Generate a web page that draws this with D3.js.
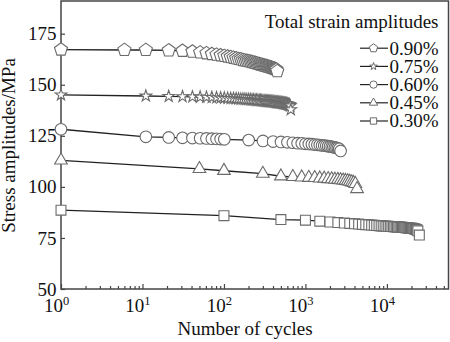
<!DOCTYPE html>
<html>
<head>
<meta charset="utf-8">
<script src="https://cdn.jsdelivr.net/npm/d3@7"></script>
<style>
  body { margin: 0; background: #fff; }
  svg { display: block; }
  text { font-family: "Liberation Serif", "Times New Roman", serif; fill: #111; }
</style>
</head>
<body>
<svg id="chart" width="450" height="342"></svg>
<script>
// ---- data ----
const legendTitle = "Total strain amplitudes";
const seriesLabels = ["0.90%", "0.75%", "0.60%", "0.45%", "0.30%"];
const xTickValues = [1, 10, 100, 1000, 10000];
const xTickExponents = ["0", "1", "2", "3", "4"];
const yTickValues = [50, 75, 100, 125, 150, 175];
const xTitle = "Number of cycles";
const yTitle = "Stress amplitudes/MPa";

const cycles090 = [1, 6, 11, 21, 31, 41, 51, 61, 71, 81, 91, 101, 111, 121, 131, 141, 151, 161, 171, 181, 191,
  201, 211, 221, 231, 241, 251, 261, 271, 281, 291, 301, 311, 321, 331, 341, 351, 361, 371, 381, 391,
  401, 411, 421, 431, 441, 451];
const stress090 = [167.2, 167.0, 167.0, 166.8, 166.6, 166.2, 165.8, 165.4, 165.0, 164.7, 164.4, 164.1, 163.8, 163.5, 163.2, 162.9, 162.6, 162.4, 162.1, 161.9, 161.7,
  161.5, 161.3, 161.1, 160.9, 160.7, 160.5, 160.3, 160.1, 159.9, 159.8, 159.6, 159.4, 159.3, 159.1, 159.0, 158.8, 158.7, 158.5, 158.4, 158.2,
  158.1, 157.9, 157.8, 157.6, 157.4, 156.6];

const cycles075 = [1, 11, 21, 31, 41, 51, 61, 71, 81, 91, 101, 111, 121, 131, 141, 151, 161, 171, 181, 191,
  201, 211, 221, 231, 241, 251, 261, 271, 281, 291, 301, 311, 321, 331, 341, 351, 361, 371, 381, 391,
  401, 411, 421, 431, 441, 451, 461, 471, 481, 491, 501, 511, 521, 531, 541, 551, 561, 571, 581, 591,
  601, 611, 621, 631, 641, 651, 661];
const stress075 = [145.0, 144.5, 144.3, 144.2, 144.1, 144.0, 143.9, 143.8, 143.7, 143.6, 143.5, 143.4, 143.3, 143.3, 143.2, 143.1, 143.0, 143.0, 142.9, 142.8,
  142.8, 142.7, 142.6, 142.6, 142.5, 142.4, 142.4, 142.3, 142.3, 142.2, 142.1, 142.1, 142.0, 142.0, 141.9, 141.9, 141.8, 141.8, 141.7, 141.7,
  141.6, 141.6, 141.5, 141.5, 141.4, 141.4, 141.3, 141.3, 141.2, 141.2, 141.1, 141.1, 141.0, 141.0, 140.9, 140.9, 140.8, 140.7, 140.7, 140.6,
  140.5, 140.4, 140.3, 140.2, 140.0, 139.7, 137.8];

const cycles060 = [1, 11, 21, 31, 41, 51, 61, 71, 81, 91, 101, 201, 301, 401, 501, 601, 701, 801, 901,
  1001, 1101, 1201, 1301, 1401, 1501, 1601, 1701, 1801, 1901, 2001, 2101, 2201, 2301, 2401, 2501, 2601, 2701];
const stress060 = [128.2, 124.5, 124.2, 124.0, 123.9, 123.8, 123.7, 123.6, 123.5, 123.4, 123.3, 122.9, 122.5, 122.2, 122.0, 121.8, 121.6, 121.4, 121.3,
  121.1, 121.0, 120.9, 120.7, 120.6, 120.5, 120.3, 120.2, 120.1, 119.9, 119.8, 119.6, 119.5, 119.3, 119.1, 118.9, 118.6, 117.6];

const cycles045 = [1, 50, 100, 300, 500, 700, 900, 1100, 1300, 1500, 1700, 1900, 2100, 2300, 2500, 2700, 2900,
  3100, 3300, 3500, 3700, 3900, 4100, 4300];
const stress045 = [113.0, 108.8, 107.9, 106.5, 105.2, 104.9, 104.7, 104.5, 104.4, 104.2, 104.1, 103.9, 103.8, 103.6, 103.5, 103.3, 103.2,
  103.0, 102.8, 102.6, 102.3, 102.0, 101.5, 99.0];

const cycles030 = [1, 100, 500, 1000, 1500, 2000, 2500, 3000, 3500, 4000, 4500, 5000, 5500, 6000, 6500, 7000, 7500, 8000, 8500, 9000, 9500,
  10000, 10500, 11000, 11500, 12000, 12500, 13000, 13500, 14000, 14500, 15000, 15500, 16000, 16500, 17000, 17500, 18000, 18500, 19000, 19500,
  20000, 20500, 21000, 21500, 22000, 22500, 23000, 23500, 24000, 25000];
const stress030 = [88.6, 85.9, 84.0, 83.7, 83.2, 82.8, 82.5, 82.3, 82.1, 81.9, 81.8, 81.6, 81.5, 81.4, 81.3, 81.2, 81.1, 81.0, 80.9, 80.9, 80.8,
  80.7, 80.7, 80.6, 80.6, 80.5, 80.5, 80.4, 80.4, 80.3, 80.3, 80.2, 80.2, 80.1, 80.1, 80.0, 80.0, 79.9, 79.9, 79.8, 79.8,
  79.7, 79.7, 79.6, 79.5, 79.4, 79.3, 79.1, 78.9, 78.5, 76.4];

// ---- marker shapes ----
const symbolPentagon = {
  draw(ctx, size) {
    const r = Math.sqrt(size / (2.5 * Math.sin(2 * Math.PI / 5)));
    for (let i = 0; i < 5; i++) {
      const a = -Math.PI / 2 + i * 2 * Math.PI / 5;
      const px = r * Math.cos(a), py = r * Math.sin(a);
      if (i === 0) ctx.moveTo(px, py); else ctx.lineTo(px, py);
    }
    ctx.closePath();
  }
};

const series = [
  { label: seriesLabels[0], n: cycles090, s: stress090, type: symbolPentagon, size: 112, legendSize: 46 },
  { label: seriesLabels[1], n: cycles075, s: stress075, type: d3.symbolStar, size: 42, legendSize: 18 },
  { label: seriesLabels[2], n: cycles060, s: stress060, type: d3.symbolCircle, size: 106, legendSize: 42 },
  { label: seriesLabels[3], n: cycles045, s: stress045, type: d3.symbolTriangle, size: 70, legendSize: 30 },
  { label: seriesLabels[4], n: cycles030, s: stress030, type: d3.symbolSquare, size: 98, legendSize: 40 }
];

// ---- layout ----
const svg = d3.select("#chart");
const x = d3.scaleLog().domain([1, 57000]).range([61, 448.5]);
const y = d3.scaleLinear().domain([50, 191]).range([289, 1]);

const frameColor = "#444";
const lineColor = "#222";
const markerColor = "#6a6a6a";

// x axis: major and minor ticks pointing inward
const minorTicks = [];
for (let e = 0; e <= 4; e++) {
  for (let m = 2; m <= 9; m++) {
    const v = m * Math.pow(10, e);
    if (v < x.domain()[1]) minorTicks.push(v);
  }
}

const gxMinor = svg.append("g").attr("transform", `translate(0,${y.range()[0]})`)
  .call(d3.axisBottom(x).tickValues(minorTicks).tickSizeInner(-3).tickSizeOuter(0).tickFormat(""));
const gx = svg.append("g").attr("transform", `translate(0,${y.range()[0]})`)
  .call(d3.axisBottom(x).tickValues(xTickValues).tickSizeInner(-5).tickSizeOuter(0).tickPadding(9.5).tickFormat(() => ""));
[gxMinor, gx].forEach(g => {
  g.select(".domain").remove();
  g.selectAll(".tick line").attr("stroke", frameColor).attr("stroke-width", 1.2);
});
gx.selectAll(".tick text").each(function (d, i) {
  const t = d3.select(this).attr("font-size", 19).attr("dx", -5).attr("fill", "#111");
  t.append("tspan").text("10");
  t.append("tspan").attr("font-size", 12.5).attr("dy", "-0.55em").text(xTickExponents[i]);
});

const gy = svg.append("g").attr("transform", `translate(${x.range()[0]},0)`)
  .call(d3.axisLeft(y).tickValues(yTickValues).tickSizeInner(-4).tickSizeOuter(0).tickPadding(4.5));
gy.select(".domain").remove();
gy.selectAll(".tick line").attr("stroke", frameColor).attr("stroke-width", 1.2);
gy.selectAll(".tick text").attr("font-size", 19).attr("fill", "#111").attr("font-family", "Liberation Serif");

// plot frame
svg.append("rect")
  .attr("x", x.range()[0]).attr("y", y.range()[1])
  .attr("width", x.range()[1] - x.range()[0]).attr("height", y.range()[0] - y.range()[1])
  .attr("fill", "none").attr("stroke", frameColor).attr("stroke-width", 1.5);

// axis titles
svg.append("text").attr("x", 245).attr("y", 335).attr("text-anchor", "middle")
  .attr("font-size", 19).text(xTitle);
svg.append("text").attr("transform", "translate(15,145.5) rotate(-90)").attr("text-anchor", "middle")
  .attr("font-size", 19).text(yTitle);

// series
const line = d3.line().x(d => x(d.n)).y(d => y(d.s));
const plot = svg.append("g");
series.forEach(sr => {
  const pts = sr.n.map((n, i) => ({ n, s: sr.s[i] }));
  plot.append("path").datum(pts).attr("d", line)
    .attr("fill", "none").attr("stroke", lineColor).attr("stroke-width", 1.3);
  const sym = d3.symbol().type(sr.type).size(sr.size);
  plot.append("g").selectAll("path").data(pts).join("path")
    .attr("transform", d => `translate(${x(d.n)},${y(d.s)})`)
    .attr("d", sym)
    .attr("fill", "#fff").attr("stroke", markerColor).attr("stroke-width", 1.1);
});

// legend
const legend = svg.append("g");
legend.append("text").attr("x", 438.5).attr("y", 28).attr("text-anchor", "end")
  .attr("font-size", 19).text(legendTitle);
series.forEach((sr, i) => {
  const base = 54.5 + i * 18.2;
  const cy = base - 6.3;
  legend.append("line").attr("x1", 360).attr("x2", 388).attr("y1", cy).attr("y2", cy)
    .attr("stroke", lineColor).attr("stroke-width", 1.2);
  legend.append("path").attr("transform", `translate(373.5,${cy})`)
    .attr("d", d3.symbol().type(sr.type).size(sr.legendSize))
    .attr("fill", "#fff").attr("stroke", markerColor).attr("stroke-width", 1);
  legend.append("text").attr("x", 438.5).attr("y", base).attr("text-anchor", "end")
    .attr("font-size", 19).text(sr.label);
});
</script>
</body>
</html>
